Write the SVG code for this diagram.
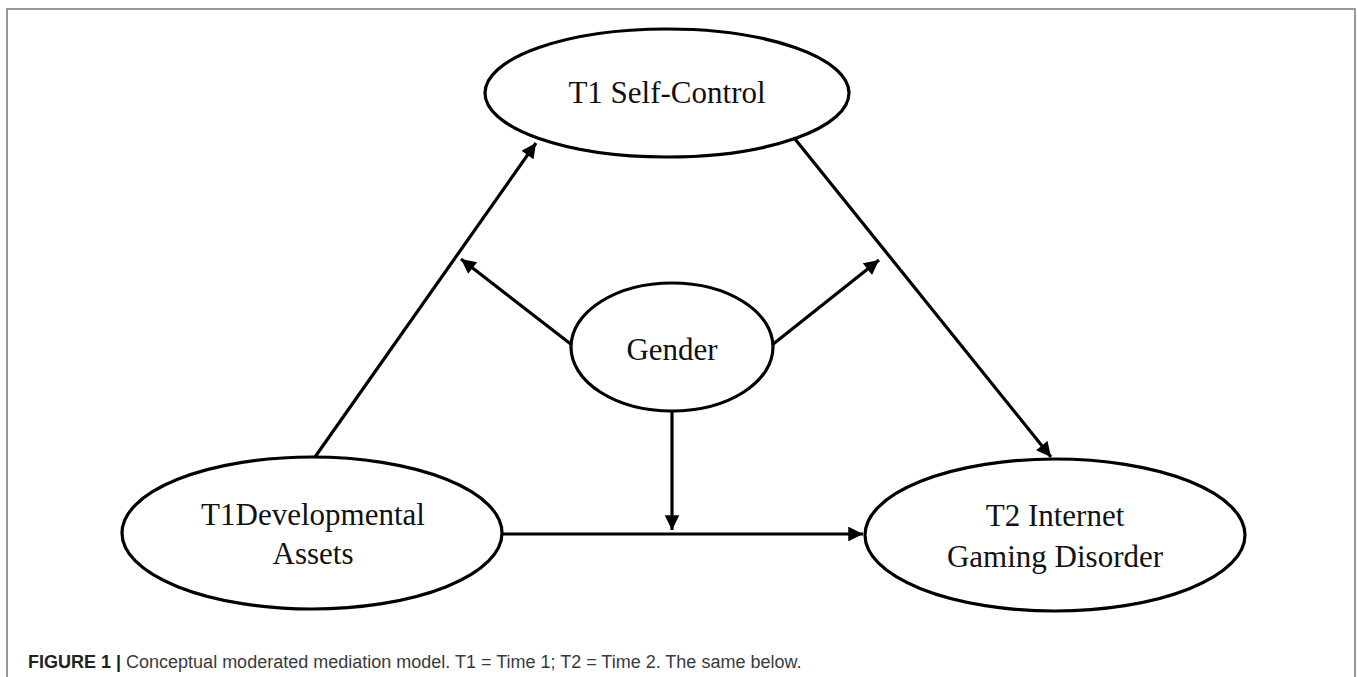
<svg xmlns="http://www.w3.org/2000/svg" width="1358" height="677" viewBox="0 0 1358 677">
<defs>
<style>
.node ellipse{fill:#fff;stroke:#000;stroke-width:3.2}
.node text{font-family:"Liberation Serif","Times New Roman",serif;font-size:31px;fill:#111;text-anchor:middle}
.conn line{stroke:#000;stroke-width:3.2;fill:none}
.arr{marker-end:url(#ah)}
.cap{font-family:"Liberation Sans",Arial,sans-serif;font-size:18px;fill:#3a3a3a}
</style>
<marker id="ah" viewBox="0 0 10 10" refX="10" refY="5" markerWidth="5" markerHeight="4.6" markerUnits="strokeWidth" orient="auto">
<path d="M0,0 L10,5 L0,10 Z" fill="#000"/>
</marker>
</defs>
<rect x="0" y="0" width="1358" height="677" fill="#fff"/>
<rect x="7" y="9" width="1348" height="680" fill="none" stroke="#777" stroke-width="1.5"/>
<g id="connectors" class="conn">
<line class="arr" x1="315" y1="457" x2="536" y2="143"/>
<line class="arr" x1="795" y1="139" x2="1051" y2="457"/>
<line class="arr" x1="502" y1="534" x2="863" y2="534"/>
<line class="arr" x1="572" y1="345" x2="461" y2="259"/>
<line class="arr" x1="772" y1="345" x2="879" y2="260"/>
<line class="arr" x1="672" y1="412" x2="672" y2="530"/>
</g>
<g id="self-control" class="node">
<ellipse cx="667" cy="93" rx="182" ry="64"/>
<text x="667" y="103">T1 Self-Control</text>
</g>
<g id="gender" class="node">
<ellipse cx="672" cy="347" rx="101" ry="64"/>
<text x="672" y="360">Gender</text>
</g>
<g id="developmental-assets" class="node">
<ellipse cx="312" cy="533" rx="190" ry="76"/>
<text x="313" y="525">T1Developmental</text>
<text x="313" y="564">Assets</text>
</g>
<g id="internet-gaming-disorder" class="node">
<ellipse cx="1055" cy="535" rx="190" ry="76"/>
<text x="1055" y="526">T2 Internet</text>
<text x="1055" y="567">Gaming Disorder</text>
</g>
<text class="cap" x="28" y="668"><tspan font-weight="bold" fill="#222">FIGURE 1 |</tspan> Conceptual moderated mediation model. T1 = Time 1; T2 = Time 2. The same below.</text>
</svg>
